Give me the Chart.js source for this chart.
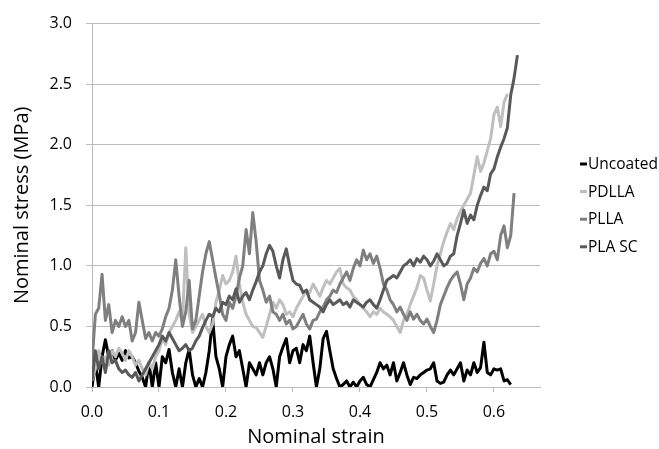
<!DOCTYPE html>
<html>
<head>
<meta charset="utf-8">
<script src="https://cdn.jsdelivr.net/npm/chart.js@4.4.0/dist/chart.umd.min.js"></script>
<style>
  html, body { margin: 0; padding: 0; background: #ffffff; }
  #wrap { width: 659px; height: 449px; position: relative; }
</style>
</head>
<body>
<div id="wrap"><canvas id="c" width="659" height="449"></canvas></div>
<script>
// Nominal strain sample positions
const strain = [
  0.000,0.005,0.010,0.015,0.020,0.025,0.030,0.035,0.040,0.045,
  0.050,0.055,0.060,0.065,0.070,0.075,0.080,0.085,0.090,0.095,
  0.100,0.105,0.110,0.115,0.120,0.125,0.130,0.135,0.140,0.145,
  0.150,0.155,0.160,0.165,0.170,0.175,0.180,0.185,0.190,0.195,
  0.200,0.205,0.210,0.215,0.220,0.225,0.230,0.235,0.240,0.245,
  0.250,0.255,0.260,0.265,0.270,0.275,0.280,0.285,0.290,0.295,
  0.300,0.305,0.310,0.315,0.320,0.325,0.330,0.335,0.340,0.345,
  0.350,0.355,0.360,0.365,0.370,0.375,0.380,0.385,0.390,0.395,
  0.400,0.405,0.410,0.415,0.420,0.425,0.430,0.435,0.440,0.445,
  0.450,0.455,0.460,0.465,0.470,0.475,0.480,0.485,0.490,0.495,
  0.500,0.505,0.510,0.515,0.520,0.525,0.530,0.535,0.540,0.545,
  0.550,0.555,0.560,0.565,0.570,0.575,0.580,0.585,0.590,0.595,
  0.600,0.605,0.610,0.615,0.620,0.625,0.630,0.635
];

// Nominal stress (MPa) per series
const uncoated = [
  0,0.2,0,0.25,0.39,0.25,0.3,0.22,0.28,0.22,
  0.3,0.24,0.25,0.2,0.13,0.08,0,0.2,0,0.2,
  0,0.25,0.2,0.31,0.12,0,0.15,0,0.2,0.31,
  0.1,0,0.07,0,0.12,0.3,0.56,0.25,0.15,0,
  0.25,0.35,0.42,0.25,0.3,0.15,0,0.2,0.15,0.1,
  0.2,0.1,0.2,0.25,0.15,0,0.25,0.33,0.4,0.2,
  0.3,0.32,0.2,0.35,0.3,0.42,0.2,0,0.15,0.4,
  0.46,0.3,0.15,0.07,0,0.02,0.05,0,0.04,0,
  0.05,0.08,0.02,0,0.06,0.12,0.2,0.15,0.18,0.1,
  0.2,0.05,0.12,0.2,0.1,0.02,0.08,0.07,0.1,0.12,
  0.14,0.15,0.2,0.05,0.03,0.04,0.1,0.14,0.1,0.15,
  0.2,0.05,0.14,0.1,0.2,0.12,0.16,0.37,0.12,0.1,
  0.15,0.14,0.15,0.05,0.06,0.02
];
const pdlla = [
  0.05,0.15,0.3,0.2,0.25,0.18,0.3,0.25,0.32,0.28,
  0.22,0.3,0.25,0.18,0.22,0.15,0.1,0.2,0.15,0.25,
  0.3,0.4,0.35,0.45,0.5,0.55,0.62,0.55,1.15,0.6,
  0.45,0.5,0.55,0.6,0.5,0.45,0.52,0.7,0.8,0.92,
  0.85,0.88,0.95,1.08,0.85,0.7,0.6,0.55,0.5,0.49,
  0.45,0.41,0.5,0.6,0.7,0.65,0.72,0.68,0.6,0.62,
  0.58,0.65,0.7,0.75,0.8,0.78,0.85,0.8,0.75,0.82,
  0.88,0.85,0.9,0.95,0.98,0.85,0.82,0.8,0.75,0.72,
  0.68,0.65,0.62,0.58,0.62,0.6,0.65,0.62,0.6,0.58,
  0.55,0.5,0.45,0.55,0.6,0.68,0.75,0.82,0.92,0.9,
  0.8,0.71,0.85,1.0,1.1,1.2,1.28,1.35,1.3,1.39,
  1.45,1.5,1.55,1.6,1.75,1.9,1.78,1.85,1.95,2.05,
  2.25,2.31,2.15,2.35,2.42
];
const plla = [
  0.2,0.6,0.65,0.93,0.55,0.68,0.45,0.55,0.5,0.58,
  0.5,0.55,0.38,0.45,0.7,0.55,0.4,0.45,0.38,0.45,
  0.42,0.48,0.58,0.65,0.8,1.05,0.75,0.5,0.62,0.88,
  0.48,0.55,0.75,0.95,1.1,1.2,1.05,0.9,0.76,0.6,
  0.55,0.7,0.65,0.75,0.9,1.0,1.3,1.1,1.44,1.2,
  0.88,0.8,0.7,0.75,0.62,0.6,0.55,0.6,0.52,0.55,
  0.48,0.5,0.55,0.6,0.52,0.48,0.55,0.56,0.62,0.66,
  0.72,0.75,0.8,0.78,0.85,0.9,0.95,0.88,0.98,1.05,
  1.0,1.13,1.05,1.1,1.02,1.08,0.98,0.85,0.8,0.72,
  0.68,0.62,0.66,0.6,0.55,0.62,0.56,0.6,0.55,0.52,
  0.56,0.5,0.45,0.55,0.68,0.75,0.82,0.88,0.92,0.95,
  0.85,0.72,0.85,0.9,0.98,0.95,1.02,1.06,1.0,1.1,
  1.12,1.05,1.25,1.33,1.15,1.25,1.6
];
const plaSC = [
  0.05,0.3,0.15,0.25,0.12,0.3,0.2,0.22,0.15,0.12,
  0.14,0.1,0.08,0.12,0.05,0.1,0.15,0.2,0.25,0.3,
  0.35,0.42,0.38,0.45,0.4,0.35,0.3,0.32,0.35,0.3,
  0.32,0.38,0.42,0.49,0.55,0.6,0.58,0.65,0.62,0.7,
  0.68,0.75,0.72,0.81,0.7,0.75,0.78,0.72,0.8,0.87,
  0.95,1.0,1.1,1.17,1.12,1.0,0.9,1.05,1.14,1.0,
  0.88,0.85,0.84,0.78,0.8,0.72,0.7,0.68,0.66,0.62,
  0.68,0.72,0.68,0.7,0.72,0.68,0.7,0.66,0.72,0.7,
  0.68,0.66,0.7,0.72,0.68,0.65,0.72,0.8,0.88,0.9,
  0.92,0.9,0.95,1.0,1.02,1.05,1.0,1.06,1.03,1.08,
  1.05,1.0,1.04,1.1,1.05,1.0,1.02,1.08,1.1,1.25,
  1.35,1.46,1.35,1.42,1.38,1.5,1.58,1.65,1.62,1.76,
  1.8,1.9,1.98,2.05,2.14,2.41,2.55,2.74
];

const seriesNames = ['Uncoated', 'PDLLA', 'PLLA', 'PLA SC'];
const seriesValues = [uncoated, pdlla, plla, plaSC];
const seriesColors = ['#000000', '#bfbfbf', '#7f7f7f', '#595959'];

const xTickLabels = ['0.0','0.1','0.2','0.3','0.4','0.5','0.6'];
const yTickLabels = ['0.0','0.5','1.0','1.5','2.0','2.5','3.0'];

const datasets = seriesNames.map((name, k) => ({
  label: name,
  data: seriesValues[k].map((v, i) => ({ x: strain[i], y: v })),
  borderColor: seriesColors[k],
  backgroundColor: seriesColors[k],
  borderWidth: 3,
  pointRadius: 0,
  tension: 0,
  fill: false,
  borderJoinStyle: 'round',
  order: seriesNames.length - k
}));

const FONT = '"Open Sans", "Noto Sans", sans-serif';
const GRID = '#bcbcbc';

const legendPlugin = {
  id: 'sideLegend',
  afterDraw(chart) {
    const ctx = chart.ctx;
    ctx.save();
    ctx.font = '15.5px ' + FONT;
    ctx.textBaseline = 'middle';
    ctx.textAlign = 'left';
    chart.data.datasets.forEach((ds, i) => {
      const y = 164 + i * 27.6;
      ctx.strokeStyle = ds.borderColor;
      ctx.lineWidth = 3;
      ctx.beginPath();
      ctx.moveTo(580, y);
      ctx.lineTo(587, y);
      ctx.stroke();
      ctx.fillStyle = '#000000';
      ctx.fillText(ds.label, 588, y + 0.5);
    });
    ctx.restore();
  }
};

new Chart(document.getElementById('c'), {
  type: 'line',
  data: { datasets },
  plugins: [legendPlugin],
  options: {
    responsive: false,
    animation: false,
    layout: { padding: { left: 0, top: 17, right: 119, bottom: 0 } },
    plugins: { legend: { display: false }, tooltip: { enabled: false } },
    scales: {
      x: {
        type: 'linear',
        min: 0,
        max: 0.6687,
        afterFit(scale) { scale.height = 62; },
        grid: { drawOnChartArea: false, drawTicks: true, tickLength: 5, color: GRID, lineWidth: 1 },
        border: { display: true, color: GRID, width: 1 },
        ticks: {
          stepSize: 0.1,
          includeBounds: false,
          padding: 11,
          maxRotation: 0,
          color: '#000000',
          font: { family: FONT, size: 16 },
          callback: (v) => { const i = Math.round(v * 10); return Math.abs(v * 10 - i) < 1e-6 ? xTickLabels[i] : ''; }
        },
        title: { display: true, text: 'Nominal strain', color: '#000000', font: { family: FONT, size: 20 }, padding: { top: 0, bottom: 0 } }
      },
      y: {
        type: 'linear',
        min: 0,
        max: 3,
        afterFit(scale) { scale.width = 92; },
        grid: { drawOnChartArea: true, drawTicks: true, tickLength: 6, color: GRID, lineWidth: 1 },
        border: { display: true, color: GRID, width: 1 },
        ticks: {
          stepSize: 0.5,
          padding: 14,
          color: '#000000',
          font: { family: FONT, size: 16 },
          callback: (v) => yTickLabels[Math.round(v * 2)]
        },
        title: { display: true, text: 'Nominal stress (MPa)', color: '#000000', font: { family: FONT, size: 20 }, padding: { top: 10, bottom: 0 } }
      }
    }
  }
});
</script>
</body>
</html>
